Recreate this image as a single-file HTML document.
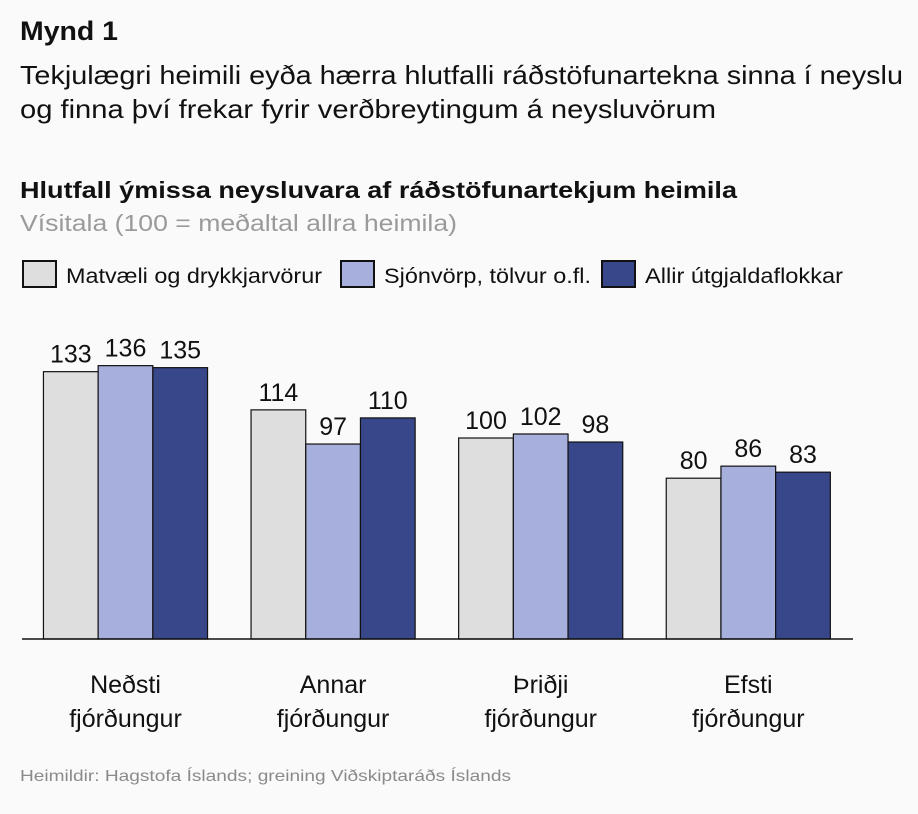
<!DOCTYPE html>
<html><head><meta charset="utf-8">
<style>
body{margin:0;background:#fafafa;width:918px;height:809px;overflow:hidden;font-family:"Liberation Sans","DejaVu Sans",sans-serif;}
svg text{font-family:"Liberation Sans","DejaVu Sans",sans-serif;}
</style></head>
<body>
<svg id="chart" width="918" height="809">
<rect width="918" height="809" fill="#fafafa"/>
<text x="20" y="40" font-size="27" font-weight="bold" fill="#111" textLength="98" lengthAdjust="spacingAndGlyphs">Mynd 1</text>
<text x="20" y="84" font-size="26" fill="#111" textLength="883" lengthAdjust="spacingAndGlyphs">Tekjulægri heimili eyða hærra hlutfalli ráðstöfunartekna sinna í neyslu</text>
<text x="20" y="118" font-size="26" fill="#111" textLength="696" lengthAdjust="spacingAndGlyphs">og finna því frekar fyrir verðbreytingum á neysluvörum</text>
<text x="20" y="198" font-size="23" font-weight="bold" fill="#111" textLength="717" lengthAdjust="spacingAndGlyphs">Hlutfall ýmissa neysluvara af ráðstöfunartekjum heimila</text>
<text x="20" y="231" font-size="23" fill="#9a9a9a" textLength="437" lengthAdjust="spacingAndGlyphs">Vísitala (100 = meðaltal allra heimila)</text>
<g id="legend"></g>
<g id="bars"></g>
<line x1="22" y1="639" x2="853" y2="639" stroke="#111" stroke-width="1.5"/>
<g id="xlabels"></g>
<text x="20" y="781" font-size="16" fill="#8a8a8a" textLength="491" lengthAdjust="spacingAndGlyphs">Heimildir: Hagstofa Íslands; greining Viðskiptaráðs Íslands</text>
</svg>
<script>
const categories = [["Neðsti","fjórðungur"],["Annar","fjórðungur"],["Þriðji","fjórðungur"],["Efsti","fjórðungur"]];
const seriesNames = ["Matvæli og drykkjarvörur","Sjónvörp, tölvur o.fl.","Allir útgjaldaflokkar"];
const seriesFood = [133,114,100,80];
const seriesTech = [136,97,102,86];
const seriesAll = [135,110,98,83];
const colors = ["#dedede","#a7afdc","#38468a"];
const ns = "http://www.w3.org/2000/svg";
const baseY = 639, pxPerUnit = 2.01, barW = 54.7, firstCenter = 125.5, groupStep = 207.6;
function yScale(v){ return baseY - v * pxPerUnit; }
function xCenter(i){ return firstCenter + i * groupStep; }
const all = [seriesFood, seriesTech, seriesAll];
const bars = document.getElementById('bars');
all.forEach((s, si) => {
  s.forEach((v, ci) => {
    const x = xCenter(ci) + (si - 1.5) * barW;
    const r = document.createElementNS(ns, 'rect');
    r.setAttribute('x', x); r.setAttribute('y', yScale(v));
    r.setAttribute('width', barW); r.setAttribute('height', baseY - yScale(v));
    r.setAttribute('fill', colors[si]); r.setAttribute('stroke', '#111'); r.setAttribute('stroke-width', '1.2');
    
    
    bars.appendChild(r);
    const t = document.createElementNS(ns, 'text');
    t.setAttribute('x', x + barW / 2); t.setAttribute('y', yScale(v) - 9);
    t.setAttribute('text-anchor', 'middle'); t.setAttribute('font-size', '25'); t.setAttribute('fill', '#111');
    t.textContent = v;
    
    
    bars.appendChild(t);
  });
});
const xl = document.getElementById('xlabels');
categories.forEach((c, i) => {
  c.forEach((line, li) => {
    const t = document.createElementNS(ns, 'text');
    t.setAttribute('x', xCenter(i)); t.setAttribute('y', 693 + li * 34);
    t.setAttribute('text-anchor', 'middle'); t.setAttribute('font-size', '25'); t.setAttribute('fill', '#111');
    t.textContent = line;
    
    
    xl.appendChild(t);
  });
});
const lg = document.getElementById('legend');
const legX = [22, 340, 601];
const legW = [256, 207, 198];
seriesNames.forEach((n, i) => {
  const r = document.createElementNS(ns, 'rect');
  r.setAttribute('x', legX[i] + 1); r.setAttribute('y', 261); r.setAttribute('width', 33); r.setAttribute('height', 26);
  r.setAttribute('fill', colors[i]); r.setAttribute('stroke', '#111'); r.setAttribute('stroke-width', '2');
  
  
  lg.appendChild(r);
  const t = document.createElementNS(ns, 'text');
  t.setAttribute('x', legX[i] + 44); t.setAttribute('y', 283); t.setAttribute('font-size', '21'); t.setAttribute('fill', '#111');
  t.setAttribute('textLength', legW[i]); t.setAttribute('lengthAdjust', 'spacingAndGlyphs');
  t.textContent = n;
  
  
  lg.appendChild(t);
});
</script>
</body></html>
